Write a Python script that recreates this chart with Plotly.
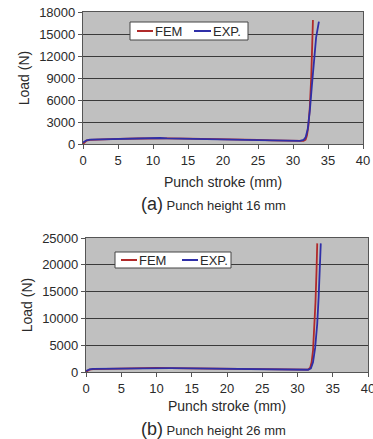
import plotly.graph_objects as go

# (a) Punch height 16 mm
a_fem_x = [0, 0.5, 1, 3, 5, 8, 10, 12, 15, 18, 20, 22, 25, 27, 29, 30, 31, 31.5, 31.8, 32.0, 32.2, 32.4, 32.6, 32.75, 32.85]
a_fem_y = [0, 450, 550, 650, 700, 750, 780, 760, 730, 700, 680, 640, 560, 500, 450, 420, 400, 420, 600, 1200, 2500, 5000, 9000, 13500, 16900]
a_exp_x = [0, 0.5, 1, 3, 5, 8, 10, 11, 12, 15, 18, 20, 22, 25, 27, 29, 30, 31, 31.5, 31.8, 32.1, 32.4, 32.7, 33.0, 33.3, 33.7]
a_exp_y = [200, 500, 600, 650, 700, 720, 760, 820, 760, 720, 700, 680, 640, 560, 500, 450, 420, 430, 550, 900, 2000, 4500, 8000, 11500, 14500, 16700]

# (b) Punch height 26 mm
b_fem_x = [0, 0.5, 1, 3, 5, 8, 10, 12, 15, 18, 20, 22, 25, 27, 29, 30, 31, 31.5, 31.8, 32.0, 32.2, 32.4, 32.55, 32.7, 32.8]
b_fem_y = [0, 450, 550, 620, 680, 750, 780, 740, 700, 660, 640, 600, 540, 480, 430, 410, 400, 450, 800, 1800, 4000, 8000, 13000, 19000, 24000]
b_exp_x = [0, 0.5, 1, 3, 5, 8, 10, 12, 15, 18, 20, 22, 25, 27, 29, 30, 31, 31.5, 31.9, 32.2, 32.5, 32.8, 33.0, 33.15, 33.3]
b_exp_y = [200, 500, 600, 640, 680, 720, 740, 720, 690, 660, 640, 600, 540, 480, 430, 410, 400, 420, 700, 1800, 4500, 9000, 14000, 19000, 24000]

x_ticks = [0, 5, 10, 15, 20, 25, 30, 35, 40]
a_y_ticks = [0, 3000, 6000, 9000, 12000, 15000, 18000]
b_y_ticks = [0, 5000, 10000, 15000, 20000, 25000]
series_names = ["FEM", "EXP."]

W, H = 373, 439
FEM_C = "#b02a2a"
EXP_C = "#2f2fa8"
COLORS = [FEM_C, EXP_C]
FONT = "Liberation Sans, Arial, sans-serif"
TXT = "#2a2a2a"


def px_x(p):
    return p / W


def px_y(p):
    return 1 - p / H


fig = go.Figure()
for xs, ys, name, c in [(a_fem_x, a_fem_y, series_names[0], FEM_C), (a_exp_x, a_exp_y, series_names[1], EXP_C)]:
    fig.add_trace(go.Scatter(x=xs, y=ys, mode="lines", name=name, showlegend=False,
                             line=dict(color=c, width=1.8), xaxis="x", yaxis="y"))
for xs, ys, name, c in [(b_fem_x, b_fem_y, series_names[0], FEM_C), (b_exp_x, b_exp_y, series_names[1], EXP_C)]:
    fig.add_trace(go.Scatter(x=xs, y=ys, mode="lines", name=name, showlegend=False,
                             line=dict(color=c, width=1.8), xaxis="x2", yaxis="y2"))

axis_common = dict(showline=True, linecolor="#555", linewidth=1.2, mirror=True,
                   tickfont=dict(family=FONT, size=13, color=TXT), zeroline=False,
                   ticks="outside", ticklen=4, tickcolor="#555", automargin=False)

xaxis_common = dict(axis_common, range=[0, 40], tickvals=x_ticks, showgrid=False,
                    ticklabeloverflow="allow")
yaxis_common = dict(axis_common, showgrid=True, gridcolor="#3a3a3a", gridwidth=1.1, tickformat="d")
title_font = dict(family=FONT, size=14, color=TXT)

shapes = []
annotations = []


def add_legend(box, items):
    x0, y0, x1, y1 = box
    shapes.append(dict(type="rect", xref="paper", yref="paper",
                       x0=px_x(x0), x1=px_x(x1), y0=px_y(y1), y1=px_y(y0),
                       line=dict(color="#444", width=1), fillcolor="white", layer="above"))
    yc = (y0 + y1) / 2
    for (lx0, lx1, tx), name, c in zip(items, series_names, COLORS):
        shapes.append(dict(type="line", xref="paper", yref="paper",
                           x0=px_x(lx0), x1=px_x(lx1), y0=px_y(yc), y1=px_y(yc),
                           line=dict(color=c, width=2), layer="above"))
        annotations.append(dict(text=name, x=px_x(tx), y=px_y(yc), xref="paper", yref="paper",
                                showarrow=False, xanchor="left", yanchor="middle",
                                font=dict(family=FONT, size=13, color=TXT)))


add_legend((130, 22, 248, 40), [(137, 153, 153), (194, 211, 211)])
add_legend((115, 252, 231, 268), [(121, 137, 137), (182, 198, 198)])

annotations += [
    dict(text="<span style='font-size:18px'>(a)</span> Punch height 16 mm", x=px_x(213), y=px_y(204),
         xref="paper", yref="paper", showarrow=False, font=dict(family=FONT, size=13, color=TXT),
         xanchor="center", yanchor="middle"),
    dict(text="<span style='font-size:18px'>(b)</span> Punch height 26 mm", x=px_x(213), y=px_y(429),
         xref="paper", yref="paper", showarrow=False, font=dict(family=FONT, size=13, color=TXT),
         xanchor="center", yanchor="middle"),
]

fig.update_layout(
    width=W, height=H,
    margin=dict(l=0, r=0, t=0, b=0),
    paper_bgcolor="white",
    plot_bgcolor="#c0c0c0",
    font=dict(family=FONT, color=TXT),
    showlegend=False,
    xaxis=dict(xaxis_common, domain=[px_x(83), px_x(363)], anchor="y",
               title=dict(text="Punch stroke (mm)", font=title_font, standoff=10)),
    yaxis=dict(yaxis_common, domain=[px_y(144), px_y(12)], anchor="x", range=[0, 18000],
               tickvals=a_y_ticks,
               title=dict(text="Load (N)", font=title_font, standoff=6)),
    xaxis2=dict(xaxis_common, domain=[px_x(86), px_x(368)], anchor="y2",
                title=dict(text="Punch stroke (mm)", font=title_font, standoff=6)),
    yaxis2=dict(yaxis_common, domain=[px_y(372), px_y(238)], anchor="x2", range=[0, 25000],
                tickvals=b_y_ticks,
                title=dict(text="Load (N)", font=title_font, standoff=6)),
    shapes=shapes,
    annotations=annotations,
)

fig.write_html("out.html", config={"displayModeBar": False},
               post_script="document.body.style.margin='0';document.body.style.overflow='hidden';")
